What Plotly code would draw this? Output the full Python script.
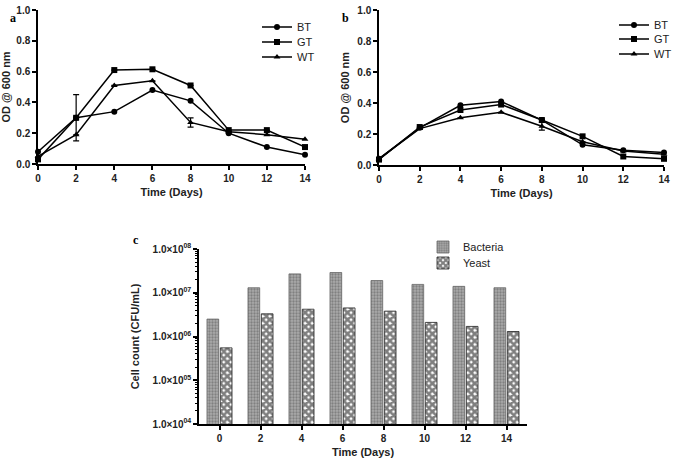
import plotly.graph_objects as go

days = [0, 2, 4, 6, 8, 10, 12, 14]
day_labels = ["0", "2", "4", "6", "8", "10", "12", "14"]

# Panel a
a_bt = [0.08, 0.30, 0.34, 0.48, 0.41, 0.20, 0.11, 0.06]
a_gt = [0.03, 0.30, 0.61, 0.615, 0.51, 0.22, 0.22, 0.11]
a_wt = [0.05, 0.19, 0.51, 0.54, 0.27, 0.21, 0.19, 0.16]
a_gt_err = [None, 0.15, None, None, None, None, None, None]
a_wt_err = [None, None, None, None, 0.03, None, None, None]

# Panel b
b_bt = [0.04, 0.24, 0.385, 0.41, 0.29, 0.13, 0.095, 0.08]
b_gt = [0.035, 0.245, 0.355, 0.39, 0.29, 0.185, 0.055, 0.04]
b_wt = [0.04, 0.235, 0.305, 0.34, 0.25, 0.15, 0.09, 0.07]
b_wt_err = [None, None, None, None, 0.025, None, None, None]

# Panel c
bacteria = [2.5e6, 1.3e7, 2.7e7, 2.9e7, 1.9e7, 1.55e7, 1.4e7, 1.3e7]
yeast = [5.5e5, 3.3e6, 4.2e6, 4.5e6, 3.8e6, 2.1e6, 1.7e6, 1.3e6]
c_tickvals = [1e4, 1e5, 1e6, 1e7, 1e8]
c_ticktext = ["1.0×10<sup>04</sup>", "1.0×10<sup>05</sup>", "1.0×10<sup>06</sup>",
              "1.0×10<sup>07</sup>", "1.0×10<sup>08</sup>"]
c_minor = [m * 10 ** e for e in range(4, 8) for m in range(2, 10)]

W, H = 676, 461
FONT = "Liberation Sans, Arial, sans-serif"


def px(x0, x1):
    return [x0 / W, x1 / W]


def py(top, bottom):
    return [1 - bottom / H, 1 - top / H]


fig = go.Figure()

symbols = ["circle", "square", "triangle-up"]
names = ["BT", "GT", "WT"]


def add_lines(series, errs, xa, ya, legends):
    for s, sym, nm, e, lg in zip(series, symbols, names, errs, legends):
        err = None
        if e is not None:
            err = dict(type="data", array=[v if v is not None else float("nan") for v in e],
                       color="black", thickness=1.2, width=3, visible=True)
        fig.add_trace(go.Scatter(
            x=days, y=s, mode="lines+markers", name=nm,
            line=dict(color="black", width=1.5),
            marker=dict(symbol=sym, size=6, color="black"),
            error_y=err, xaxis=xa, yaxis=ya, legend=lg, cliponaxis=False))


add_lines([a_bt, a_gt, a_wt], [None, a_gt_err, a_wt_err], "x", "y",
          ["legend", "legend2", "legend3"])
add_lines([b_bt, b_gt, b_wt], [None, None, b_wt_err], "x2", "y2",
          ["legend4", "legend5", "legend6"])

fig.add_trace(go.Bar(
    x=day_labels, y=bacteria, name="Bacteria", xaxis="x3", yaxis="y3", legend="legend7",
    marker=dict(color="#a0a0a0", line=dict(color="#666666", width=0.8),
                pattern=dict(shape=".", fgcolor="#555555", bgcolor="#aaaaaa",
                             size=3, solidity=0.45))))
fig.add_trace(go.Bar(
    x=day_labels, y=yeast, name="Yeast", xaxis="x3", yaxis="y3", legend="legend8",
    marker=dict(color="white", line=dict(color="#222222", width=0.8),
                pattern=dict(shape="x", fgcolor="black", bgcolor="white",
                             size=5, solidity=0.78))))

axis_common = dict(showline=True, linecolor="black", linewidth=1.5, ticks="outside",
                   ticklen=4, tickwidth=1.5, tickcolor="black", showgrid=False,
                   zeroline=False, tickfont=dict(family=FONT, size=10, color="#222"),
                   title_font=dict(family=FONT, size=11, color="#222"))


def leg(x, y):
    return dict(x=x / W, y=1 - y / H, xanchor="left", yanchor="middle",
                bgcolor="rgba(0,0,0,0)", font=dict(family=FONT, size=11, color="#222"),
                tracegroupgap=0)


fig.update_layout(
    width=W, height=H, margin=dict(l=0, r=0, t=0, b=0, autoexpand=False),
    paper_bgcolor="white", plot_bgcolor="white",
    font=dict(family=FONT, color="#222"),
    showlegend=True,
    barmode="group", bargap=0.35, bargroupgap=0.12,
    xaxis=dict(axis_common, domain=px(38, 305), range=[0, 14], tickvals=days,
               ticktext=["<b>%d</b>" % d for d in days],
               title=dict(text="<b>Time (Days)</b>", standoff=6), anchor="y"),
    yaxis=dict(axis_common, domain=py(10, 164), range=[0, 1],
               tickvals=[0, 0.2, 0.4, 0.6, 0.8, 1.0],
               ticktext=["<b>0.0</b>", "<b>0.2</b>", "<b>0.4</b>", "<b>0.6</b>", "<b>0.8</b>", "<b>1.0</b>"],
               title=dict(text="<b>OD @ 600 nm</b>", standoff=3), anchor="x"),
    xaxis2=dict(axis_common, domain=px(379, 664), range=[0, 14], tickvals=days,
                ticktext=["<b>%d</b>" % d for d in days],
                title=dict(text="<b>Time (Days)</b>", standoff=6), anchor="y2"),
    yaxis2=dict(axis_common, domain=py(10, 165), range=[0, 1],
                tickvals=[0, 0.2, 0.4, 0.6, 0.8, 1.0],
                ticktext=["<b>0.0</b>", "<b>0.2</b>", "<b>0.4</b>", "<b>0.6</b>", "<b>0.8</b>", "<b>1.0</b>"],
                title=dict(text="<b>OD @ 600 nm</b>", standoff=5), anchor="x2"),
    xaxis3=dict(axis_common, domain=px(199, 527), range=[-0.5, 7.5],
                ticktext=["<b>%s</b>" % d for d in day_labels], tickvals=day_labels,
                title=dict(text="<b>Time (Days)</b>", standoff=6), anchor="y3"),
    yaxis3=dict(axis_common, domain=py(249, 424), type="log", range=[4, 8],
                tickvals=c_tickvals, ticktext=["<b>%s</b>" % t for t in c_ticktext],
                tickfont=dict(family=FONT, size=10, color="#222"),
                minor=dict(ticks="outside", ticklen=2.5, tickwidth=1, tickcolor="black",
                           tickvals=c_minor, showgrid=False),
                title=dict(text="<b>Cell count (CFU/mL)</b>", standoff=11), anchor="x3"),
    legend=leg(257, 27), legend2=leg(257, 42), legend3=leg(257, 57),
    legend4=leg(614, 25), legend5=leg(614, 39), legend6=leg(614, 54),
    legend7=leg(423, 247), legend8=leg(423, 263),
    annotations=[
        dict(text="<b>a</b>", x=8 / W, y=1 - 9 / H, xref="paper", yref="paper",
             showarrow=False, font=dict(family="Liberation Serif, Times New Roman, serif", size=12, color="black")),
        dict(text="<b>b</b>", x=346 / W, y=1 - 9 / H, xref="paper", yref="paper",
             showarrow=False, font=dict(family="Liberation Serif, Times New Roman, serif", size=12, color="black")),
        dict(text="<b>c</b>", x=131 / W, y=1 - 240 / H, xref="paper", yref="paper",
             showarrow=False, font=dict(family="Liberation Serif, Times New Roman, serif", size=12, color="black")),
    ],
)

fig.write_html("out.html", config={"displayModeBar": False},
               post_script="document.body.style.margin='0';document.body.style.overflow='hidden';")
